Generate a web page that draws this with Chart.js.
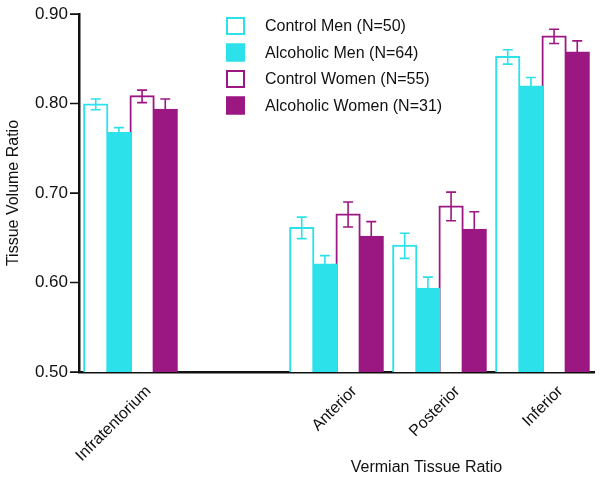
<!DOCTYPE html>
<html>
<head>
<meta charset="utf-8">
<script src="https://cdn.jsdelivr.net/npm/chart.js@4"></script>
<style>
  html, body { margin: 0; padding: 0; background: #fff; }
  #wrap { width: 600px; height: 480px; }
</style>
</head>
<body>
<div id="wrap"><canvas id="myChart" width="600" height="480"></canvas></div>
<script>
// blank slot keeps the gap between Infratentorium and the vermian regions
const regions = ["Infratentorium", "", "Anterior", "Posterior", "Inferior"];
const seriesNames = ["Control Men (N=50)", "Alcoholic Men (N=64)", "Control Women (N=55)", "Alcoholic Women (N=31)"];

const controlMen = [0.799, null, 0.661, 0.641, 0.852];
const alcoholicMen = [0.767, null, 0.620, 0.593, 0.819];
const controlWomen = [0.808, null, 0.676, 0.685, 0.875];
const alcoholicWomen = [0.793, null, 0.651, 0.659, 0.857];

const errControlMen = [0.006, null, 0.012, 0.014, 0.008];
const errAlcoholicMen = [0.006, null, 0.010, 0.013, 0.010];
const errControlWomen = [0.007, null, 0.014, 0.016, 0.008];
const errAlcoholicWomen = [0.012, null, 0.017, 0.020, 0.013];

const yTicks = [0.5, 0.6, 0.7, 0.8, 0.9];

const cyan = "#2ce1ea";
const purple = "#9b1782";
const font = "'Liberation Sans', Arial, sans-serif";

const errorBars = {
  id: "errorBars",
  afterDatasetsDraw(chart) {
    const ctx = chart.ctx;
    const y = chart.scales.y;
    chart.data.datasets.forEach((ds, i) => {
      const meta = chart.getDatasetMeta(i);
      meta.data.forEach((bar, j) => {
        const v = ds.data[j];
        const e = ds.errors[j];
        if (v == null || e == null) return;
        const top = y.getPixelForValue(v + e);
        const bot = y.getPixelForValue(v - e);
        ctx.save();
        ctx.strokeStyle = ds.errColor;
        ctx.lineWidth = 1.6;
        ctx.beginPath();
        ctx.moveTo(bar.x, top);
        ctx.lineTo(bar.x, bot);
        ctx.moveTo(bar.x - 5, top);
        ctx.lineTo(bar.x + 5, top);
        ctx.moveTo(bar.x - 5, bot);
        ctx.lineTo(bar.x + 5, bot);
        ctx.stroke();
        ctx.restore();
      });
    });
  }
};

const extras = {
  id: "extras",
  afterDraw(chart) {
    const ctx = chart.ctx;
    const area = chart.chartArea;
    ctx.save();
    // legend inside the plot
    const lx = area.left + 147;
    let ly = area.top + 3;
    chart.data.datasets.forEach((ds) => {
      ctx.fillStyle = ds.backgroundColor;
      ctx.fillRect(lx, ly, 19, 18);
      ctx.strokeStyle = ds.borderColor;
      ctx.lineWidth = 2;
      ctx.strokeRect(lx + 1, ly + 1, 17, 16);
      ctx.fillStyle = "#111";
      ctx.font = "16px " + font;
      ctx.textBaseline = "middle";
      ctx.textAlign = "left";
      ctx.fillText(ds.label, lx + 39, ly + 10);
      ly += 26.5;
    });
    // x axis title sits under the vermian groups
    const xs = chart.scales.x;
    const cx = xs.getPixelForValue(3) - 13;
    ctx.font = "16px " + font;
    ctx.textAlign = "center";
    ctx.textBaseline = "middle";
    ctx.fillStyle = "#111";
    ctx.fillText("Vermian Tissue Ratio", cx, 468);
    // y tick marks on the outside of the axis
    const ys = chart.scales.y;
    ctx.strokeStyle = "#111";
    ctx.lineWidth = 1.5;
    ctx.beginPath();
    yTicks.forEach((v) => {
      const py = ys.getPixelForValue(v);
      ctx.moveTo(area.left - 9, py);
      ctx.lineTo(area.left, py);
    });
    ctx.stroke();
    ctx.restore();
  }
};

const ctx = document.getElementById("myChart").getContext("2d");
const myChart = new Chart(ctx, {
  type: "bar",
  data: {
    labels: regions,
    datasets: [
      { label: seriesNames[0], data: controlMen, errors: errControlMen, backgroundColor: "#ffffff", borderColor: cyan, errColor: cyan },
      { label: seriesNames[1], data: alcoholicMen, errors: errAlcoholicMen, backgroundColor: cyan, borderColor: cyan, errColor: cyan },
      { label: seriesNames[2], data: controlWomen, errors: errControlWomen, backgroundColor: "#ffffff", borderColor: purple, errColor: purple },
      { label: seriesNames[3], data: alcoholicWomen, errors: errAlcoholicWomen, backgroundColor: purple, borderColor: purple, errColor: purple },
    ],
  },
  options: {
    responsive: false,
    animation: false,
    layout: { padding: { top: 14, right: 6, left: 0, bottom: 0 } },
    datasets: {
      bar: { categoryPercentage: 0.9, barPercentage: 1.0, borderWidth: 2, borderSkipped: false, inflateAmount: 1 },
    },
    plugins: {
      legend: { display: false },
      tooltip: { enabled: false },
    },
    scales: {
      y: {
        min: 0.5,
        max: 0.9,
        afterBuildTicks(scale) {
          scale.ticks = yTicks.map((v) => ({ value: v }));
        },
        afterFit(scale) {
          scale.width = 79;
        },
        ticks: {
          color: "#111",
          font: { family: font, size: 17 },
          padding: 2,
          callback: (v) => Number(v).toFixed(2),
        },
        grid: { drawOnChartArea: false, drawTicks: true, tickLength: 9, tickColor: "#111" },
        border: { color: "#111", width: 2.5 },
        title: {
          display: true,
          text: "Tissue Volume Ratio",
          color: "#111",
          font: { family: font, size: 16 },
          padding: { top: 4, bottom: 0 },
        },
      },
      x: {
        afterFit(scale) {
          scale.height = 108;
        },
        ticks: {
          color: "#111",
          font: { family: font, size: 16 },
          minRotation: 45,
          maxRotation: 45,
          labelOffset: 18,
          padding: 2,
        },
        grid: { display: false },
        border: { color: "#111", width: 2.5 },
      },
    },
  },
  plugins: [errorBars, extras],
});
</script>
</body>
</html>
